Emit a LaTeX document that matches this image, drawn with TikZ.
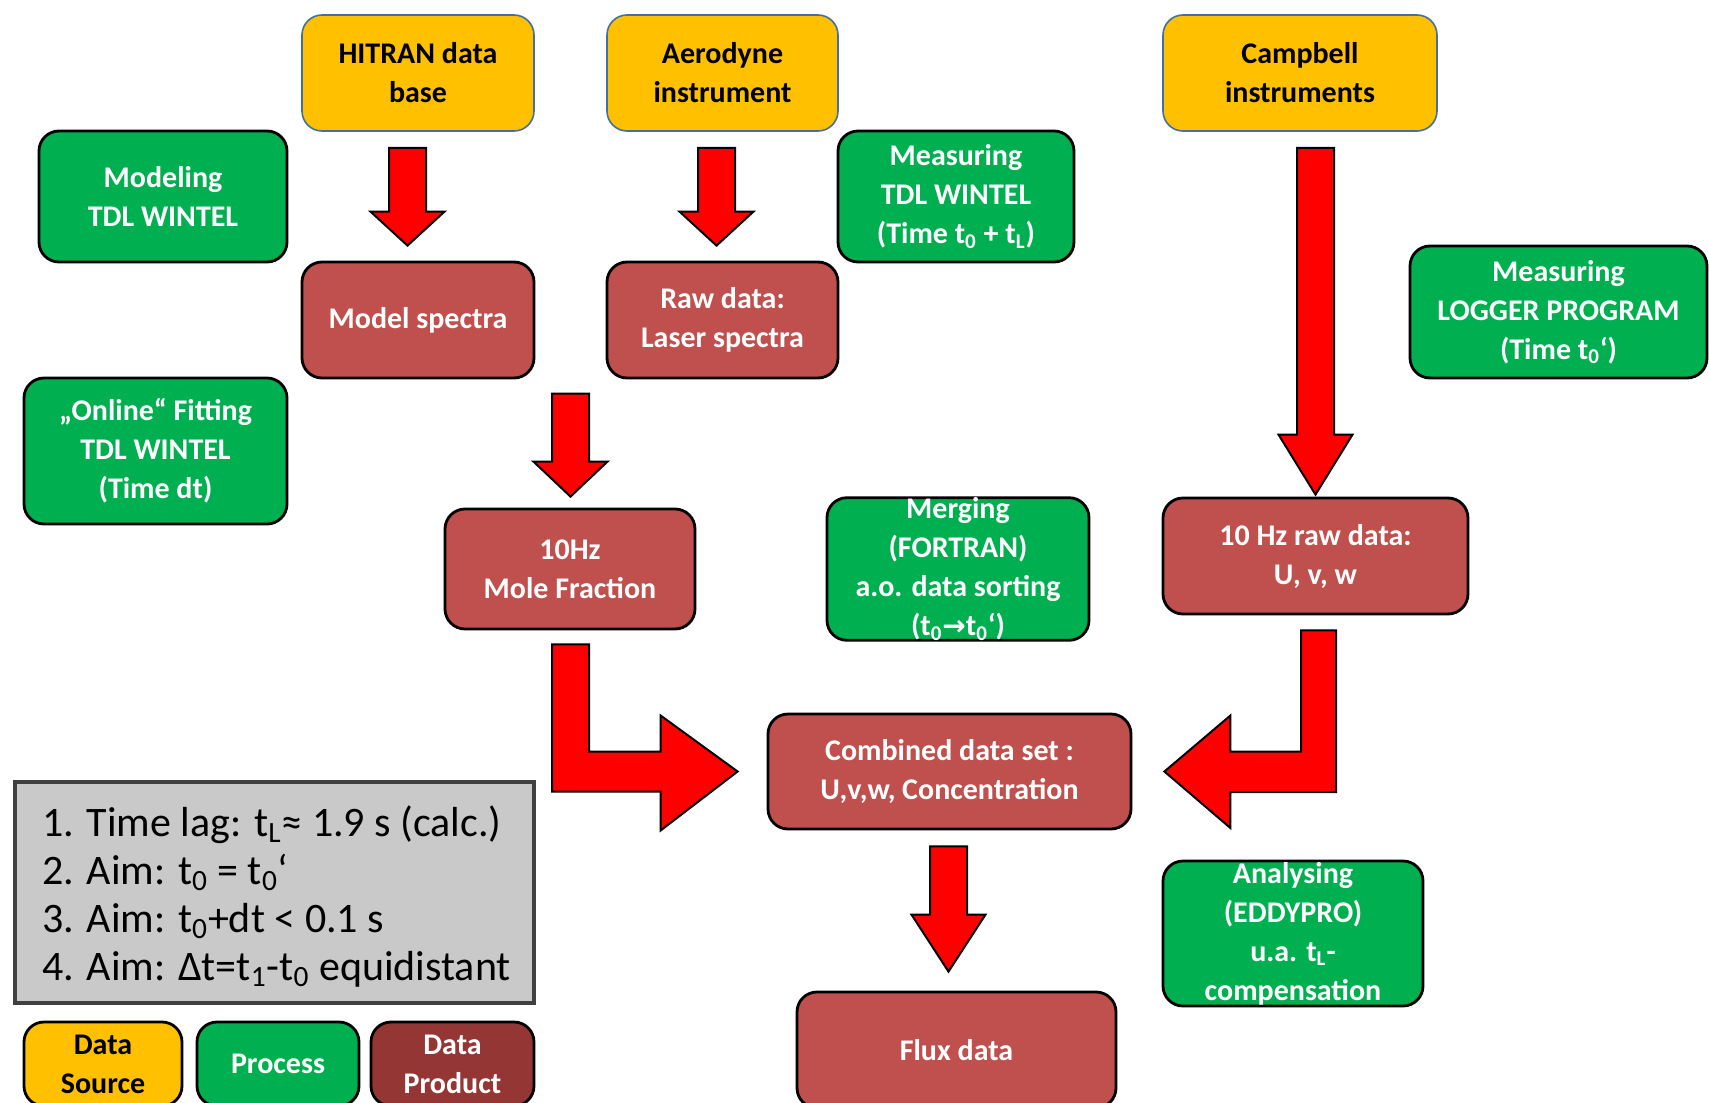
\documentclass[tikz,border=0pt]{standalone}
\usepackage{fontspec}
\setmainfont{Carlito}
\newfontfamily\symfont{DejaVu Sans}
\usetikzlibrary{calc}
\definecolor{srcfill}{HTML}{FFC000}
\definecolor{srcdraw}{HTML}{41719C}
\definecolor{procfill}{HTML}{00B050}
\definecolor{prodfill}{HTML}{C0504D}
\definecolor{legprod}{HTML}{943634}
\definecolor{arrred}{HTML}{FF0000}
\definecolor{noteg}{HTML}{C9C9C9}
\tikzset{
  box/.style={rounded corners=10pt, align=center, inner sep=0pt,
    font=\bfseries\fontsize{15}{19.5}\selectfont},
  srcbox/.style={box, fill=srcfill, draw=srcdraw, line width=0.8pt, text=black},
  procbox/.style={box, fill=procfill, draw=black, line width=1.4pt, text=white},
  prodbox/.style={box, fill=prodfill, draw=black, line width=1.4pt, text=white},
  blk/.style={fill=arrred, draw=black, line width=1pt, line join=miter},
  notebox/.style={fill=noteg, draw=black!75, line width=2pt, align=left, inner sep=0pt,
    font=\fontsize{21}{24}\selectfont},
  sz/.style 2 args={minimum width=#1pt, minimum height=#2pt}
}
% vertical block arrow: #1 top centre, #2 tip, #3 head length
\newcommand\dblock[3]{\draw[blk] let \p1=#1, \p2=#2 in
  (\x1-9.25pt,\y1) -- (\x1+9.25pt,\y1) -- (\x1+9.25pt,\y2+#3) -- (\x1+18.5pt,\y2+#3)
  -- (\x1,\y2) -- (\x1-18.5pt,\y2+#3) -- (\x1-9.25pt,\y2+#3) -- cycle;}
\begin{document}
\begin{tikzpicture}[x=0.5pt, y=-0.5pt]
\clip (0,0) rectangle (1709,1103);
\fill[white] (0,0) rectangle (1709,1103);

% data sources
\node[srcbox, sz={116}{58}] (hitran) at (418,73) {HITRAN data\\base};
\node[srcbox, sz={115.5}{58}] (aero) at (722.5,73) {Aerodyne\\instrument};
\node[srcbox, sz={137}{58}] (camp) at (1300,73) {Campbell\\instruments};

% processes
\node[procbox, sz={124}{65.5}] (modeling) at (163,196.5) {Modeling\\TDL WINTEL};
\node[procbox, sz={118}{65.5}] (meas) at (956,196.5) {Measuring\\TDL WINTEL\\(Time t\textsubscript{0} + t\textsubscript{L})};
\node[procbox, sz={148.5}{66}] (logger) at (1558.5,312) {Measuring\\LOGGER PROGRAM\\(Time t\textsubscript{0}‘)};
\node[procbox, sz={131.5}{73}] (online) at (155.5,451) {„Online“ Fitting\\TDL WINTEL\\(Time dt)};
\node[procbox, sz={131}{71}] (merge) at (958,569) {Merging\\(FORTRAN)\\a.o. data sorting\\(t\textsubscript{0}{\symfont\fontsize{14}{14}\selectfont →}t\textsubscript{0}‘)};
\node[procbox, sz={130}{72.5}] (analys) at (1293,933.5) {Analysing\\(EDDYPRO)\\u.a. t\textsubscript{L}-\\compensation};

% products
\node[prodbox, sz={116}{58}] (modsp) at (418,320) {Model spectra};
\node[prodbox, sz={115.5}{58}] (raw) at (722.5,320) {Raw data:\\Laser spectra};
\node[prodbox, sz={125}{60}] (mole) at (570,569) {10Hz\\Mole Fraction};
\node[prodbox, sz={152.5}{58}] (raw10) at (1315.5,556) {10 Hz raw data:\\U, v, w};
\node[prodbox, sz={181.5}{57.5}] (comb) at (949.5,771.5) {Combined data set :\\U,v,w, Concentration};
\node[prodbox, sz={159.5}{58}] (flux) at (956.5,1050) {Flux data};

% note box
\node[notebox, sz={259.5}{110.5}] (note) at (274.5,892.5) {};
\node[font=\fontsize{21}{24}\selectfont, align=left, inner sep=0pt] (notetext) at ($(note.center)+(2,4)$) {1. Time lag: t\textsubscript{L}≈ 1.9 s (calc.)\\2. Aim: t\textsubscript{0} = t\textsubscript{0}‘\\3. Aim: t\textsubscript{0}+dt < 0.1 s\\4. Aim: Δt=t\textsubscript{1}-t\textsubscript{0} equidistant};

% legend
\node[srcbox, draw=black, line width=1.4pt, sz={79}{42}] (legsrc) at (103,1064) {Data\\Source};
\node[procbox, sz={81}{42}] (legproc) at (278,1064) {Process};
\node[prodbox, fill=legprod, sz={81.5}{42}] (legprod) at (452.5,1064) {Data\\Product};

% straight block arrows
\dblock{($(hitran.south)+(-10.5,16)$)}{($(modsp.north)+(-10.5,-15)$)}{17pt}
\dblock{($(aero.south)+(-6,16)$)}{($(raw.north)+(-6,-15)$)}{17pt}
\dblock{($(mole.north)+(0.5,-114)$)}{($(mole.north)+(0.5,-11)$)}{17.5pt}
\dblock{($(camp.south)+(15.5,16)$)}{($(raw10.north)+(0,-2)$)}{30pt}
\dblock{($(comb.south)+(-1,16)$)}{($(flux.north)+(-8,-19)$)}{28.5pt}

% bent arrow from mole fraction to combined
\draw[blk] let \p1=(mole.south), \p2=(comb.west) in
  (\x1-9pt,\y1-7pt) -- (\x1+9.5pt,\y1-7pt) -- (\x1+9.5pt,\y2+10pt)
  -- (\x2-53pt,\y2+10pt) -- (\x2-53pt,\y2+28pt) -- (\x2-14.5pt,\y2)
  -- (\x2-53pt,\y2-29.5pt) -- (\x2-53pt,\y2-10pt) -- (\x1-9pt,\y2-10pt) -- cycle;

% bent arrow from 10 Hz raw data to combined
\draw[blk] let \p1=(raw10.south), \p2=(comb.east) in
  (\x1-7.25pt,\y1-7.5pt) -- (\x1+10.25pt,\y1-7.5pt) -- (\x1+10.25pt,\y2-10.25pt)
  -- (\x2+49pt,\y2-10.25pt) -- (\x2+49pt,\y2-28.25pt) -- (\x2+16pt,\y2)
  -- (\x2+49pt,\y2+28pt) -- (\x2+49pt,\y2+10pt) -- (\x1-7.25pt,\y2+10pt) -- cycle;
\end{tikzpicture}
\end{document}
